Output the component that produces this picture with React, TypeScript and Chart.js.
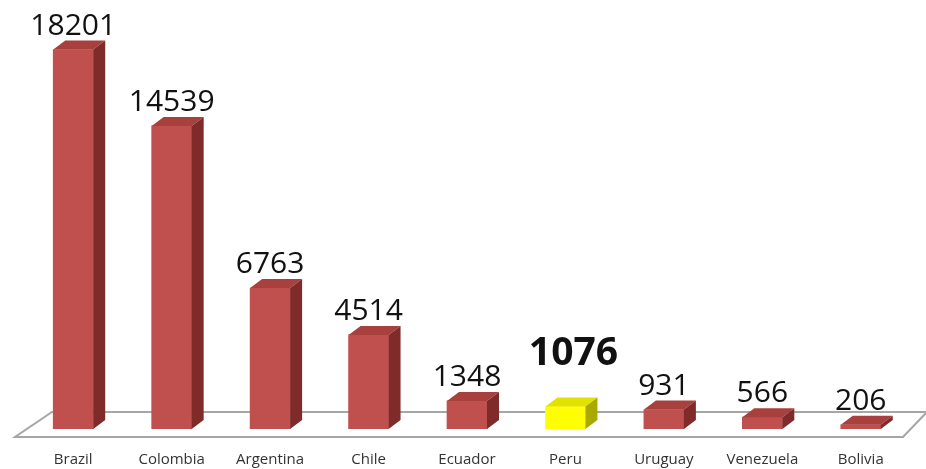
import React, { useEffect, useRef } from 'react';
import { Chart, registerables } from 'chart.js';

Chart.register(...registerables);

const countries = ['Brazil', 'Colombia', 'Argentina', 'Chile', 'Ecuador', 'Peru', 'Uruguay', 'Venezuela', 'Bolivia'];
const values = [18201, 14539, 6763, 4514, 1348, 1076, 931, 566, 206];
const highlighted = 'Peru';

const RED_FRONT = '#c0504d';
const RED_TOP = '#a8413e';
const RED_SIDE = '#7f2b29';
const YEL_FRONT = '#ffff00';
const YEL_TOP = '#e2e200';
const YEL_SIDE = '#a9a900';

const DX = 12;
const DY = -9;

const threeD = {
  id: 'threeD',
  beforeDatasetsDraw(chart: any) {
    const { ctx, chartArea } = chart;
    const base = chart.scales.y.getPixelForValue(0);
    const fy = base + 8;
    const by = base - 17;
    ctx.save();
    ctx.beginPath();
    ctx.moveTo(chartArea.left - 9, fy);
    ctx.lineTo(chartArea.right - 7, fy);
    ctx.lineTo(chartArea.right + 17, by);
    ctx.lineTo(chartArea.left + 28, by);
    ctx.closePath();
    ctx.fillStyle = '#ffffff';
    ctx.fill();
    ctx.strokeStyle = '#a6a6a6';
    ctx.lineWidth = 2;
    ctx.stroke();
    ctx.restore();
  },
  afterDatasetsDraw(chart: any) {
    const { ctx } = chart;
    const meta = chart.getDatasetMeta(0);
    ctx.save();
    meta.data.forEach((bar: any, i: number) => {
      const hl = countries[i] === highlighted;
      const { x, y, base, width } = bar.getProps(['x', 'y', 'base', 'width'], true);
      const l = x - width / 2;
      const r = x + width / 2;
      // top face
      ctx.beginPath();
      ctx.moveTo(l, y);
      ctx.lineTo(r, y);
      ctx.lineTo(r + DX, y + DY);
      ctx.lineTo(l + DX, y + DY);
      ctx.closePath();
      ctx.fillStyle = hl ? YEL_TOP : RED_TOP;
      ctx.fill();
      // side face
      ctx.beginPath();
      ctx.moveTo(r, y);
      ctx.lineTo(r + DX, y + DY);
      ctx.lineTo(r + DX, base + DY);
      ctx.lineTo(r, base);
      ctx.closePath();
      ctx.fillStyle = hl ? YEL_SIDE : RED_SIDE;
      ctx.fill();
      // value label
      ctx.fillStyle = '#111111';
      ctx.textAlign = 'center';
      ctx.textBaseline = 'alphabetic';
      if (hl) {
        ctx.font = 'bold 39px "Open Sans"';
        ctx.fillText(String(values[i]), x + 8, y + DY - 33);
      } else {
        ctx.font = '30px "Open Sans"';
        ctx.fillText(String(values[i]), x, y + DY - 6);
      }
    });
    ctx.restore();
  },
};

export default function App() {
  const ref = useRef<HTMLCanvasElement>(null);
  useEffect(() => {
    if (!ref.current) return;
    const chart = new Chart(ref.current, {
      type: 'bar',
      data: {
        labels: countries,
        datasets: [
          {
            data: values,
            backgroundColor: countries.map((c) => (c === highlighted ? YEL_FRONT : RED_FRONT)),
            borderWidth: 0,
            barThickness: 40,
          },
        ],
      },
      options: {
        animation: false,
        responsive: false,
        layout: { padding: { top: 10, left: 24, right: 16, bottom: 0 } },
        plugins: { legend: { display: false }, tooltip: { enabled: false } },
        scales: {
          x: {
            grid: { display: false, drawTicks: false },
            border: { display: false },
            ticks: { font: { family: 'Open Sans', size: 15 }, color: '#333333', padding: 22 },
            afterFit: (scale: any) => {
              scale.height = 40;
            },
          },
          y: { display: false, min: 0, max: 20100 },
        },
      },
      plugins: [threeD],
    });
    return () => chart.destroy();
  }, []);
  return (
    <div style={{ position: 'absolute', left: 0, top: 0, width: 926, height: 469, background: '#fff' }}>
      <canvas ref={ref} width={926} height={469} />
    </div>
  );
}
